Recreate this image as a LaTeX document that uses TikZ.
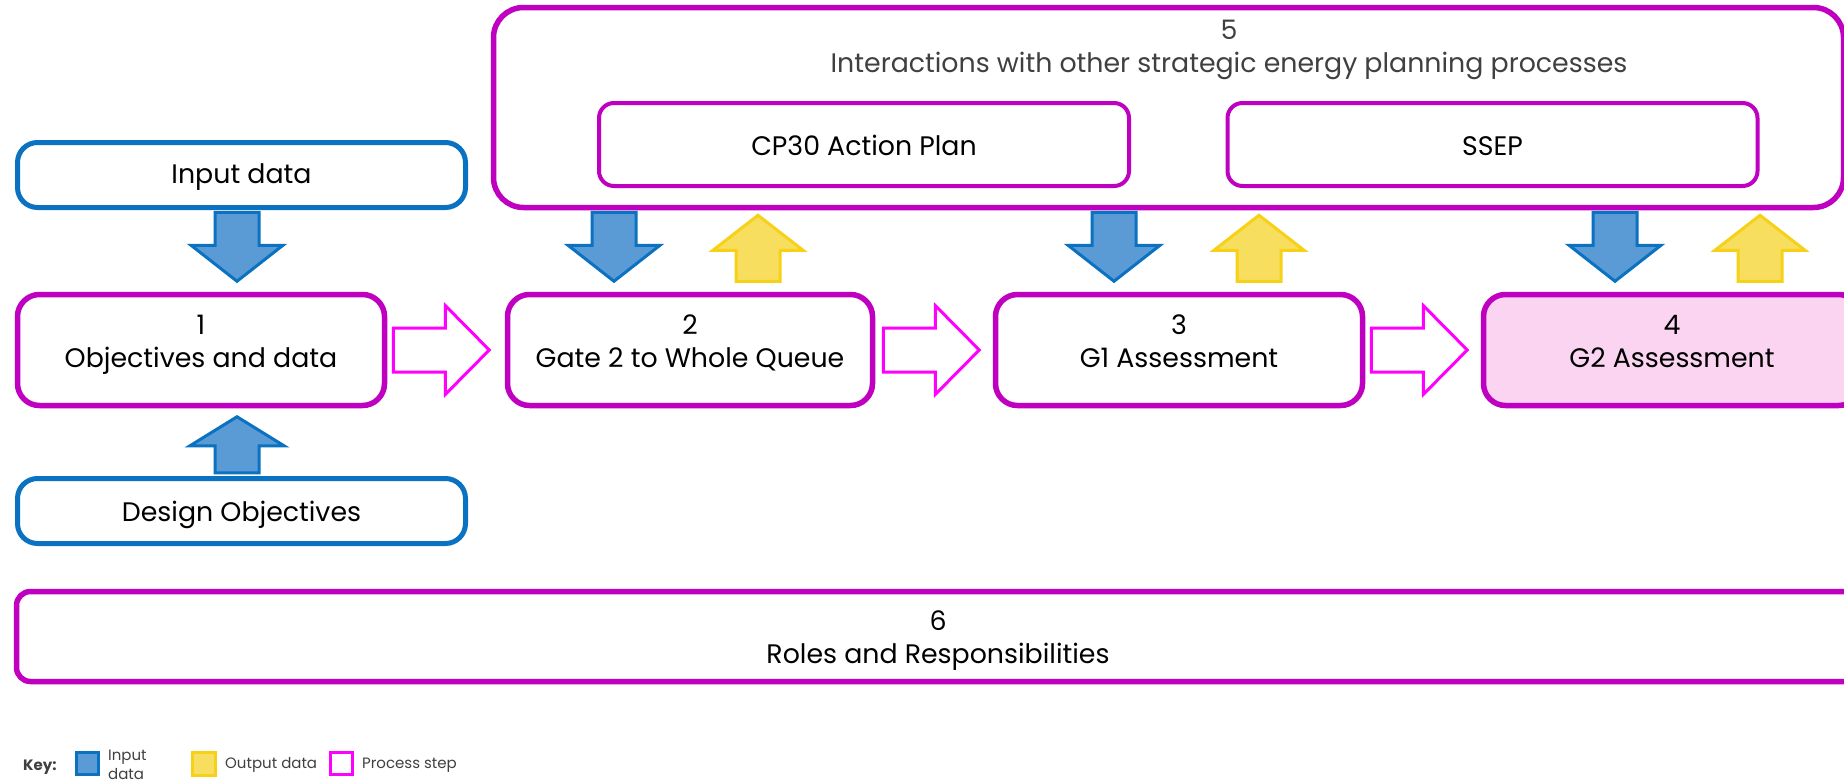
\documentclass[tikz,border=0pt]{standalone}
\usepackage{fontspec}
\setmainfont{Poppins}
\usetikzlibrary{calc}
\definecolor{mag}{HTML}{C000C0}
\definecolor{pmag}{HTML}{FF00FF}
\definecolor{bluB}{HTML}{0B72C1}
\definecolor{bluF}{HTML}{5B9BD5}
\definecolor{yelB}{HTML}{F7D117}
\definecolor{yelF}{HTML}{F8DE5E}
\definecolor{pinkF}{HTML}{FAD4F0}
\definecolor{txtg}{HTML}{404040}
% vertical block arrow pointing down: style, tip, head length, total length, head half width
\newcommand\blkdown[5]{%
  \draw[#1] #2 -- ++(#5,-#3) -- ++({-(#5-22)},0) -- ++(0,{-(#4-#3)}) -- ++(-44,0)
    -- ++(0,{#4-#3}) -- ++({-(#5-22)},0) -- cycle;}
% vertical block arrow pointing up
\newcommand\blkup[5]{%
  \draw[#1] #2 -- ++(#5,#3) -- ++({-(#5-22)},0) -- ++(0,{#4-#3}) -- ++(-44,0)
    -- ++(0,{-(#4-#3)}) -- ++({-(#5-22)},0) -- cycle;}
% horizontal block arrow pointing right
\newcommand\blkright[2]{%
  \draw[#1] #2 -- ++(-44,-44.5) -- ++(0,22.5) -- ++(-52,0) -- ++(0,44)
    -- ++(52,0) -- ++(0,22.5) -- cycle;}
\newcommand\lift{\rule[-17.8pt]{0pt}{17.8pt}}
\newcommand\drop{\rule{0pt}{28.5pt}}
\begin{document}
\begin{tikzpicture}[x=1pt,y=-1pt,
  every node/.style={font=\fontsize{26.8}{33}\selectfont, align=center, inner sep=0pt},
  inbox/.style={draw=bluB, line width=5pt, rounded corners=20pt, fill=white,
    minimum width=448pt, minimum height=65pt},
  stepbox/.style={draw=mag, line width=5.5pt, rounded corners=22pt, fill=white,
    minimum width=#1, minimum height=111pt},
  subbox/.style={draw=mag, line width=4pt, rounded corners=15pt, fill=white,
    minimum width=530pt, minimum height=83pt, text height=26pt, text depth=4pt},
  bluearr/.style={draw=bluB, fill=bluF, line width=3pt, line join=miter},
  yelarr/.style={draw=yelB, fill=yelF, line width=3pt, line join=miter},
  procarr/.style={draw=pmag, fill=white, line width=3pt, line join=miter},
  keytxt/.style={text=txtg, font=\fontsize{15}{19}\selectfont}
]
\clip (0,0) rectangle (1844,780);
\fill[white] (0,0) rectangle (1844,780);

% group 5
\node[draw=mag, line width=5.5pt, rounded corners=30pt, minimum width=1350pt,
  minimum height=200pt] (b5) at (1168.5,107.5) {};
\node[text=txtg] (t5) at (1229,49.5) {5\\Interactions with other strategic energy planning processes};
\node[subbox] (cp) at (864,144.5) {CP30 Action Plan};
\node[subbox] (ss) at (1492.5,144.5) {SSEP};

% left column
\node[inbox, text height=22pt, text depth=6pt] (inp) at (241.5,175) {Input data};
\node[inbox, text height=24pt, text depth=4pt] (des) at (241.5,511) {Design Objectives};

% steps
\node[stepbox=367pt] (b1) at (201,350) {1\\Objectives and data\lift};
\node[stepbox=365pt] (b2) at (690,350) {2\\Gate 2 to Whole Queue\lift};
\node[stepbox=367pt] (b3) at (1179,350) {3\\G1 Assessment\lift};
\node[stepbox=377pt, fill=pinkF] (b4) at (1672,350) {4\\G2 Assessment\lift};

% roles
\node[draw=mag, line width=5.5pt, rounded corners=14pt, minimum width=1843pt,
  minimum height=90pt] (b6) at (938,636.5) {\drop 6\\Roles and Responsibilities};

% input arrows
\blkdown{bluearr}{([xshift=36pt,yshift=10.5pt]b1.north)}{36}{69}{46}
\blkup{bluearr}{([xshift=36pt,yshift=-8.5pt]b1.south)}{29}{56}{47}
\blkdown{bluearr}{([xshift=-76pt,yshift=10.5pt]b2.north)}{36}{69}{46}
\blkdown{bluearr}{([xshift=-65pt,yshift=10.5pt]b3.north)}{36}{69}{46}
\blkdown{bluearr}{([xshift=-57pt,yshift=10.5pt]b4.north)}{36}{69}{46}
% output arrows
\blkup{yelarr}{([xshift=68pt,yshift=76.5pt]b2.north)}{35}{66}{45}
\blkup{yelarr}{([xshift=80pt,yshift=76.5pt]b3.north)}{35}{66}{45}
\blkup{yelarr}{([xshift=88pt,yshift=76.5pt]b4.north)}{35}{66}{45}
% process arrows
\blkright{procarr}{([xshift=-15.5pt]b2.west)}
\blkright{procarr}{([xshift=-13.5pt]b3.west)}
\blkright{procarr}{([xshift=-13.5pt]b4.west)}

% key
\node[keytxt, anchor=west, font=\fontsize{15}{19}\selectfont\bfseries] (key) at (23,767) {Key:};
\node[draw=bluB, fill=bluF, line width=3pt, minimum size=22pt] (kb) at (87.5,763.5) {};
\node[keytxt, anchor=west, align=left] (kbt) at (108,765) {Input\\data};
\node[draw=yelB, fill=yelF, line width=3pt, minimum size=23pt] (ky) at (203.5,763.5) {};
\node[keytxt, anchor=west] (kyt) at (225,765) {Output data};
\node[draw=pmag, fill=white, line width=3pt, minimum size=22pt] (kp) at (341.5,763.5) {};
\node[keytxt, anchor=west] (kpt) at (362,765) {Process step};
\end{tikzpicture}
\end{document}
